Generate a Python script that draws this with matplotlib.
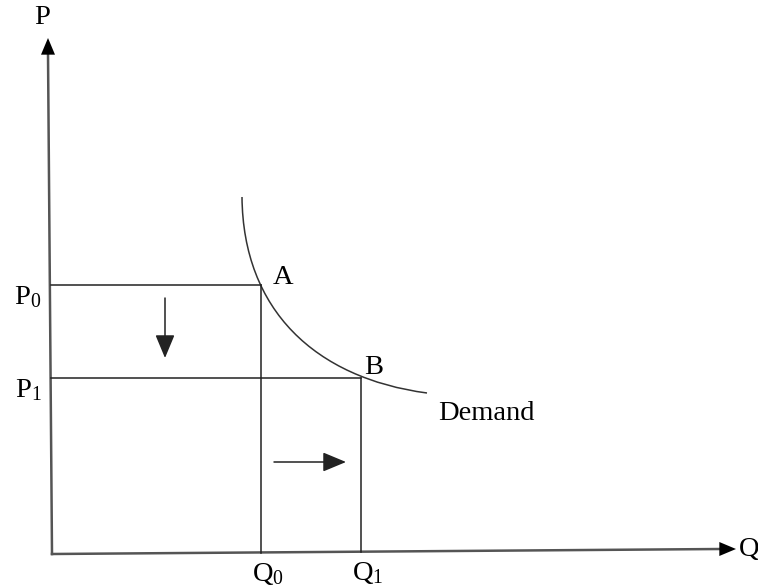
import matplotlib.pyplot as plt
from matplotlib.path import Path
from matplotlib.patches import PathPatch

plt.rcParams['font.family'] = ['Liberation Serif', 'DejaVu Serif']
plt.rcParams['mathtext.fontset'] = 'custom'
plt.rcParams['mathtext.rm'] = 'Liberation Serif'
plt.rcParams['mathtext.it'] = 'Liberation Serif:italic'

# diagram read in picture units (x right, y down)
origin = (52, 554)
p_axis_top = (48, 38)
q_axis_end = (736, 549)

p_labels = [r'$\mathrm{P}_0$', r'$\mathrm{P}_1$']
p_levels = [285, 378]
q_labels = [r'$\mathrm{Q}_0$', r'$\mathrm{Q}_1$']
q_levels = [261, 361]
q_base = [553, 552]

# demand curve: start, two control points, end (cubic Bezier)
demand_q = [242, 243, 315, 427]
demand_p = [197, 310, 378, 393]

fs = 20.5
fig = plt.figure(figsize=(7.58, 5.88), dpi=100)
ax = fig.add_axes([0, 0, 1, 1])
ax.set_xlim(0, 758)
ax.set_ylim(588, 0)
ax.axis('off')

axis_col = '#555555'
line_col = '#222222'

# axes with arrow heads
head = dict(arrowstyle='-|>,head_length=1.0,head_width=0.42', color='black',
            lw=0, mutation_scale=12, shrinkA=0, shrinkB=0)
ax.plot([origin[0], p_axis_top[0]], [origin[1], p_axis_top[1] + 15], color=axis_col, lw=1.8)
ax.plot([origin[0], q_axis_end[0] - 15], [origin[1], q_axis_end[1]], color=axis_col, lw=1.8)
ax.annotate('', xy=p_axis_top, xytext=(p_axis_top[0], p_axis_top[1] + 18), arrowprops=head)
ax.annotate('', xy=q_axis_end, xytext=(q_axis_end[0] - 18, q_axis_end[1]), arrowprops=head)
ax.text(42, 18, 'P', fontsize=fs, ha='center', va='center')
ax.text(749, 549, 'Q', fontsize=fs, ha='center', va='center')

# price and quantity lines
for pl, ql, p, q, qb in zip(p_labels, q_labels, p_levels, q_levels, q_base):
    ax.plot([51, q], [p, p], color=line_col, lw=1.1)
    ax.plot([q, q], [p, qb], color=line_col, lw=1.1)
    ax.text(28, p + 12, pl, fontsize=fs, ha='center', va='center')
    ax.text(q + 7, qb + 21, ql, fontsize=fs, ha='center', va='center')

curve = Path(list(zip(demand_q, demand_p)),
             [Path.MOVETO, Path.CURVE4, Path.CURVE4, Path.CURVE4])
ax.add_patch(PathPatch(curve, facecolor='none', edgecolor='#333333', lw=1.1))
ax.text(283, 278, 'A', fontsize=fs, ha='center', va='center')
ax.text(374, 367, 'B', fontsize=fs, ha='center', va='center')
ax.text(486, 413, 'Demand', fontsize=fs, ha='center', va='center')

# movement arrows
mv = dict(arrowstyle='-|>,head_length=1.2,head_width=0.5', color=line_col,
          lw=1.1, mutation_scale=12, shrinkA=0, shrinkB=0)
ax.annotate('', xy=(165, 358), xytext=(165, 298), arrowprops=mv)
ax.annotate('', xy=(346, 462), xytext=(274, 462), arrowprops=mv)

fig.savefig('out.png', dpi=100)
